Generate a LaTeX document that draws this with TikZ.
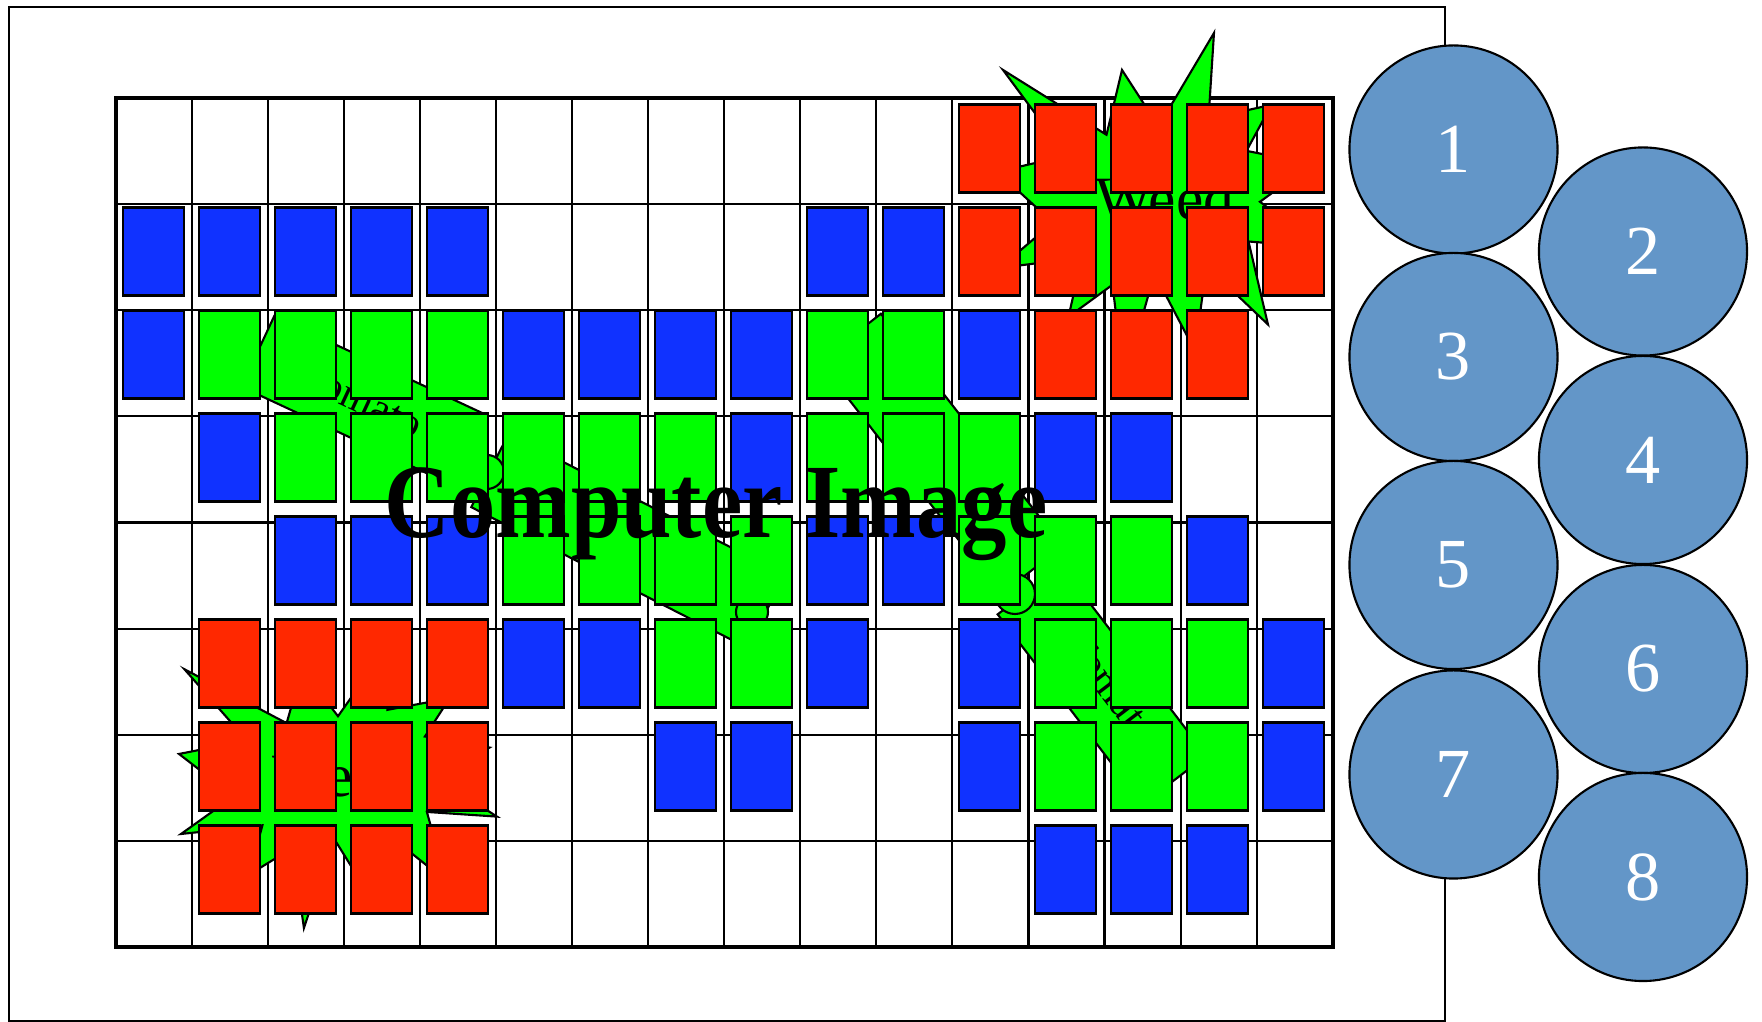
\documentclass[tikz,border=0pt]{standalone}
\usepackage{fontspec}
\setmainfont{Liberation Serif}
\usetikzlibrary{positioning,calc}

\definecolor{cellblue}{RGB}{16,50,255}
\definecolor{cellgreen}{RGB}{0,255,0}
\definecolor{cellred}{RGB}{255,40,0}
\definecolor{nozzleblue}{RGB}{99,150,200}

% starburst (weed) in a box: x0, y0, width, height
\newcommand{\weedburst}[4]{%
  \begin{scope}[shift={(#1,#2)}, xscale=#3/216, yscale=#4/216]
    \filldraw[fill=cellgreen, draw=black, line width=0.6pt]
      (108,58) -- (145.22,0) -- (141.55,53.25) -- (183.8,44.57) -- (167.02,73.15)
      -- (210.97,81.37) -- (176.07,104.75) -- (216,132.9) -- (168.37,129.42)
      -- (181.45,180.95) -- (140.2,144.57) -- (132.47,197.37) -- (105.32,149.35)
      -- (84.85,216) -- (77.15,156.27) -- (47.62,176.17) -- (56.67,139.37)
      -- (1.35,145.87) -- (37.22,117.75) -- (0,86.15) -- (46.27,76.17) -- (3.7,22.95)
      -- (73.12,63.2) -- (83.52,22.95) -- cycle;
  \end{scope}}

% tomato plant: centre, angle, length, width
\newcommand{\tomatoband}[4]{%
  \filldraw[plantshape, rotate around={#2:#1}]
    ($#1+(-#3/2,-#4/2)$) rectangle ($#1+(#3/2,#4/2)$);}

\begin{document}
\begin{tikzpicture}[x=0.01cm, y=-0.01cm,
    cellbox/.style={draw=black, line width=0.6pt, minimum width=0.61cm,
      minimum height=0.88cm, inner sep=0pt},
    nozzle/.style={circle, draw=black, line width=0.6pt, fill=nozzleblue,
      minimum size=2.08cm, inner sep=0pt, text=white,
      font=\fontsize{20}{20}\selectfont},
    plantshape/.style={fill=cellgreen, draw=black, line width=0.6pt},
    planttext/.style={font=\fontsize{12}{12}\selectfont},
    weedtext/.style={font=\fontsize{17.5}{17.5}\selectfont, anchor=base}]
    \useasboundingbox (0,0) rectangle (1762,1022);

    % ===== FRAME =====
    \draw[line width=0.6pt] (9,7) rectangle (1445,1021);

    % ===== GRID =====
    \def\gx{116}
    \def\gy{97.7}
    \def\cw{76.04}
    \def\ch{106.2}
    \foreach \k in {1,...,15} {
        \draw[line width=0.6pt] ({\gx+\k*\cw},\gy) -- ({\gx+\k*\cw},{\gy+8*\ch});
    }
    \foreach \k in {1,...,7} {
        \draw[line width=0.6pt] (\gx,{\gy+\k*\ch}) -- ({\gx+16*\cw},{\gy+\k*\ch});
    }
    \draw[line width=1.2pt] (\gx,\gy) rectangle ({\gx+16*\cw},{\gy+8*\ch});

    % ===== TOMATO PLANTS =====
    \tomatoband{(362,400)}{-25}{230}{78}
    \node[planttext, rotate=-25] (tomatoA) at (362,400) {Tomato};
    \tomatoband{(628,541)}{-27}{310}{82}
    \tomatoband{(941,454)}{-52}{295}{78}
    \tomatoband{(1102,685)}{-52.6}{239}{80}
    \node[planttext, rotate=-52.6] (tomatoD) at (1112,688) {Tomato};
    % fruits
    \foreach \x/\y/\rr in {487/472/17, 752/612/16, 1015/594/20, 826/330/14} {
        \filldraw[plantshape] (\x,\y) circle[radius=\rr];
    }

    % ===== WEEDS =====
    \weedburst{997.5}{33}{322}{348}
    \node[weedtext] (weedA) at (1165,220) {Weed};
    \weedburst{179}{638.5}{318}{289.5}
    \node[weedtext] (weedB) at (342,797) {Weed};

    % ===== CELLS =====
    % blue: background, green: crop, red: weed
    \foreach \c/\r in {0/1,1/1,2/1,3/1,4/1,9/1,10/1,
                       0/2,5/2,6/2,7/2,8/2,11/2,
                       1/3,8/3,12/3,13/3,
                       2/4,3/4,4/4,9/4,10/4,14/4,
                       5/5,6/5,9/5,11/5,15/5,
                       7/6,8/6,11/6,15/6,
                       12/7,13/7,14/7} {
        \node[cellbox, fill=cellblue] (blue-\c-\r) at ({153.5+76*\c},{148.5+103*\r}) {};
    }
    \foreach \c/\r in {1/2,2/2,3/2,4/2,9/2,10/2,
                       2/3,3/3,4/3,5/3,6/3,7/3,9/3,10/3,11/3,
                       5/4,6/4,7/4,8/4,11/4,12/4,13/4,
                       7/5,8/5,12/5,13/5,14/5,
                       12/6,13/6,14/6} {
        \node[cellbox, fill=cellgreen] (green-\c-\r) at ({153.5+76*\c},{148.5+103*\r}) {};
    }
    \foreach \c/\r in {11/0,12/0,13/0,14/0,15/0,
                       11/1,12/1,13/1,14/1,15/1,
                       12/2,13/2,14/2,
                       1/5,2/5,3/5,4/5,
                       1/6,2/6,3/6,4/6,
                       1/7,2/7,3/7,4/7} {
        \node[cellbox, fill=cellred] (red-\c-\r) at ({153.5+76*\c},{148.5+103*\r}) {};
    }

    \node[font=\fontsize{30}{30}\selectfont\bfseries, xscale=0.86, anchor=base]
        (title) at (716,538) {Computer Image};

    % ===== SPRAY NOZZLES =====
    \foreach \n/\x/\y in {1/1453.5/149.5, 2/1643/251.5, 3/1453.5/357, 4/1643/460,
                          5/1453.5/565, 6/1643/669, 7/1453.5/774.5, 8/1643/877} {
        \node[nozzle] (noz\n) at (\x,\y) {\n};
    }
\end{tikzpicture}
\end{document}
